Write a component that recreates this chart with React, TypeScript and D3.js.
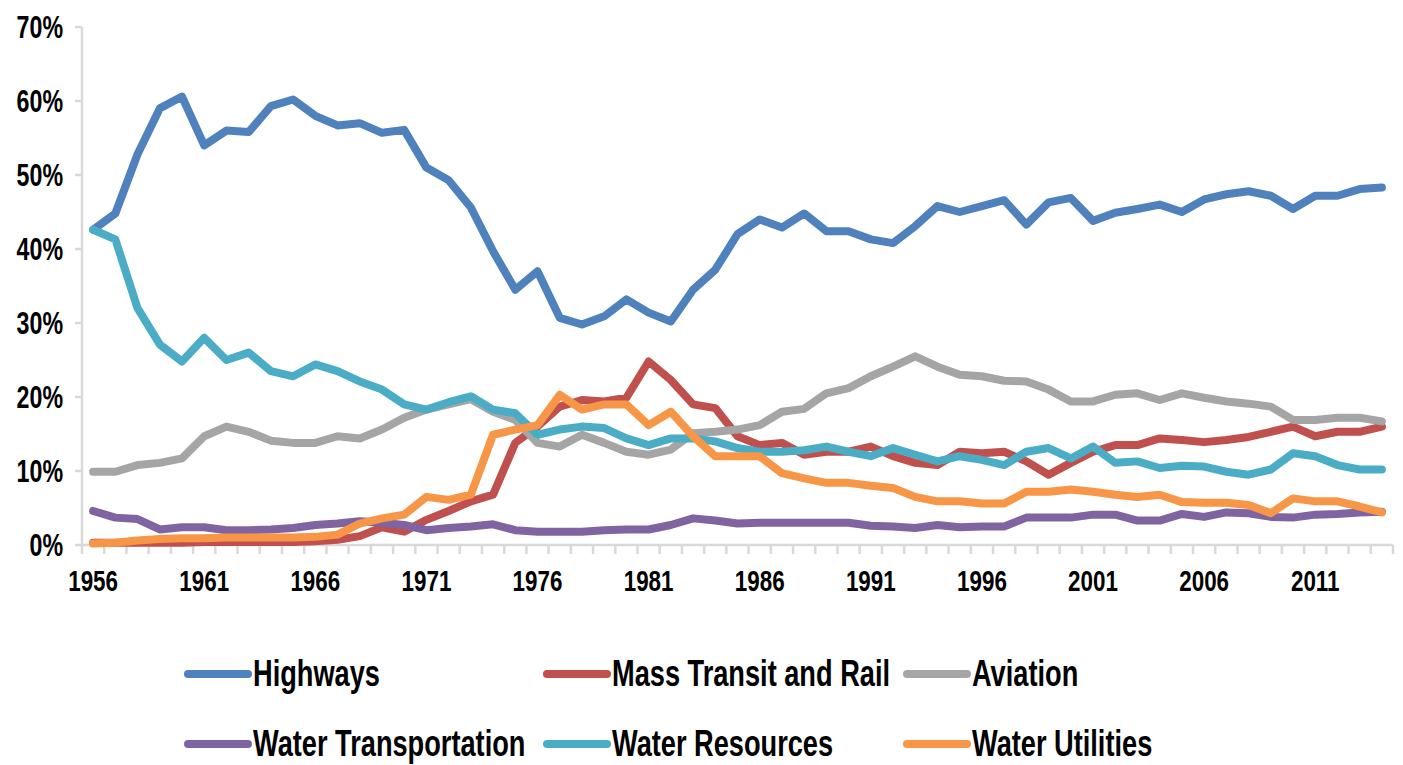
import React from 'react';
import * as d3 from 'd3';

// categories
const years = [
  1956, 1957, 1958, 1959, 1960, 1961, 1962, 1963, 1964, 1965,
  1966, 1967, 1968, 1969, 1970, 1971, 1972, 1973, 1974, 1975,
  1976, 1977, 1978, 1979, 1980, 1981, 1982, 1983, 1984, 1985,
  1986, 1987, 1988, 1989, 1990, 1991, 1992, 1993, 1994, 1995,
  1996, 1997, 1998, 1999, 2000, 2001, 2002, 2003, 2004, 2005,
  2006, 2007, 2008, 2009, 2010, 2011, 2012, 2013, 2014,
];

// share of spending, percent
const highways = [
  42.6, 44.8, 52.8, 59.0, 60.6, 54.0, 56.0, 55.8, 59.3, 60.2,
  58.0, 56.7, 57.0, 55.7, 56.1, 51.0, 49.3, 45.6, 39.7, 34.5,
  37.0, 30.7, 29.8, 30.9, 33.2, 31.4, 30.2, 34.5, 37.2, 42.0,
  44.0, 42.9, 44.8, 42.4, 42.4, 41.3, 40.8, 43.1, 45.8, 45.0,
  45.8, 46.6, 43.3, 46.3, 46.9, 43.8, 44.9, 45.4, 46.0, 45.0,
  46.7, 47.4, 47.8, 47.2, 45.4, 47.2, 47.2, 48.1, 48.3,
];
const massTransit = [
  0.3, 0.3, 0.3, 0.3, 0.3, 0.4, 0.4, 0.4, 0.4, 0.4,
  0.5, 0.7, 1.2, 2.4, 1.8, 3.4, 4.6, 5.9, 6.8, 13.8,
  16.0, 18.7, 19.6, 19.4, 19.9, 24.8, 22.3, 19.0, 18.5, 14.7,
  13.5, 13.8, 12.2, 12.6, 12.6, 13.3, 12.0, 11.1, 10.8, 12.6,
  12.4, 12.6, 11.3, 9.5, 11.1, 12.6, 13.5, 13.5, 14.4, 14.2,
  13.9, 14.2, 14.6, 15.3, 16.0, 14.7, 15.3, 15.3, 16.0,
];
const aviation = [
  9.9, 9.9, 10.8, 11.1, 11.7, 14.7, 16.0, 15.3, 14.1, 13.8,
  13.8, 14.7, 14.4, 15.6, 17.2, 18.3, 19.0, 19.7, 18.0, 16.9,
  13.8, 13.3, 14.9, 13.8, 12.6, 12.2, 12.9, 15.1, 15.3, 15.6,
  16.2, 18.0, 18.4, 20.5, 21.2, 22.8, 24.1, 25.5, 24.1, 23.0,
  22.8, 22.2, 22.1, 21.0, 19.4, 19.4, 20.3, 20.5, 19.6, 20.5,
  19.9, 19.4, 19.1, 18.7, 16.9, 16.9, 17.2, 17.2, 16.7,
];
const waterTransportation = [
  4.6, 3.7, 3.5, 2.1, 2.4, 2.4, 2.0, 2.0, 2.1, 2.3,
  2.7, 2.9, 3.2, 3.0, 2.7, 2.0, 2.3, 2.5, 2.8, 2.0,
  1.8, 1.8, 1.8, 2.0, 2.1, 2.1, 2.7, 3.6, 3.3, 2.9,
  3.0, 3.0, 3.0, 3.0, 3.0, 2.6, 2.5, 2.3, 2.7, 2.4,
  2.5, 2.5, 3.7, 3.7, 3.7, 4.1, 4.1, 3.3, 3.3, 4.2,
  3.8, 4.4, 4.3, 3.8, 3.7, 4.1, 4.2, 4.4, 4.5,
];
const waterResources = [
  42.6, 41.3, 32.0, 27.1, 24.8, 28.0, 25.0, 26.0, 23.5, 22.8,
  24.4, 23.5, 22.1, 21.0, 19.0, 18.3, 19.3, 20.1, 18.3, 17.8,
  14.9, 15.6, 16.0, 15.8, 14.4, 13.5, 14.4, 14.4, 14.0, 13.1,
  12.6, 12.6, 12.8, 13.3, 12.6, 12.0, 13.1, 12.2, 11.3, 12.0,
  11.5, 10.8, 12.6, 13.1, 11.7, 13.3, 11.1, 11.3, 10.4, 10.7,
  10.6, 9.9, 9.5, 10.2, 12.4, 12.0, 10.8, 10.2, 10.2,
];
const waterUtilities = [
  0.2, 0.3, 0.6, 0.8, 0.9, 0.9, 1.0, 1.0, 1.0, 1.0,
  1.1, 1.4, 2.9, 3.6, 4.1, 6.5, 6.1, 6.8, 14.9, 15.6,
  16.2, 20.3, 18.3, 19.0, 19.0, 16.2, 18.0, 14.7, 12.0, 12.0,
  12.0, 9.7, 9.0, 8.4, 8.4, 8.0, 7.7, 6.5, 5.9, 5.9,
  5.6, 5.6, 7.2, 7.2, 7.5, 7.2, 6.8, 6.5, 6.8, 5.8,
  5.7, 5.7, 5.4, 4.3, 6.3, 5.9, 5.9, 5.2, 4.4,
];

const yTicks = [0, 10, 20, 30, 40, 50, 60, 70];

const seriesNames = [
  'Highways', 'Mass Transit and Rail', 'Aviation',
  'Water Transportation', 'Water Resources', 'Water Utilities',
];
const seriesValues = [highways, massTransit, aviation, waterTransportation, waterResources, waterUtilities];
const seriesColors = ['#4F81BD', '#C0504D', '#A5A5A5', '#8064A2', '#4BACC6', '#F79646'];

const W = 1403;
const H = 765;
const plot = { left: 82, right: 1393, top: 27, bottom: 545 };
const FONT = '"Liberation Sans", Arial, sans-serif';

// narrow text: Arial squeezed horizontally (and a bit taller) like the Arial Narrow of the source
const Narrow = ({ x, y, anchor = 'start', size, weight = 'bold', children }: any) => (
  <g transform={`translate(${x},${y}) scale(0.8,1.08)`}>
    <text textAnchor={anchor} fontFamily={FONT} fontSize={size} fontWeight={weight} fill="#000">
      {children}
    </text>
  </g>
);

const App = () => {
  const x = d3.scaleBand<number>().domain(years).range([plot.left, plot.right]);
  const y = d3.scaleLinear().domain([0, 70]).range([plot.bottom, plot.top]);
  const bw = x.bandwidth();
  const cx = (yr: number) => (x(yr) as number) + bw / 2;

  const line = d3.line<number>()
    .x((_, i) => cx(years[i]))
    .y((d) => y(d));

  const boundaries = years.map((yr) => x(yr) as number).concat([plot.right]);
  const labelYears = years.filter((_, i) => i % 5 === 0);

  // legend layout: two rows of three
  const legendCols = [188, 547, 907];
  const legendRows = [674, 744];

  return (
    <svg width={W} height={H} style={{ position: 'absolute', left: 0, top: 0, background: '#fff' }}>
      {/* y axis */}
      <line x1={plot.left} x2={plot.left} y1={plot.top} y2={plot.bottom} stroke="#D9D9D9" strokeWidth={2.5} />
      {yTicks.map((t) => (
        <g key={t}>
          <line x1={plot.left - 7} x2={plot.left} y1={y(t)} y2={y(t)} stroke="#D9D9D9" strokeWidth={2.5} />
          <Narrow x={63} y={y(t) + 11} anchor="end" size={29}>{t}%</Narrow>
        </g>
      ))}

      {/* x axis */}
      <line x1={plot.left} x2={plot.right} y1={plot.bottom} y2={plot.bottom} stroke="#D9D9D9" strokeWidth={2.5} />
      {boundaries.map((b, i) => (
        <line key={i} x1={b} x2={b} y1={plot.bottom} y2={plot.bottom + 9} stroke="#D9D9D9" strokeWidth={2.5} />
      ))}
      {labelYears.map((yr) => (
        <Narrow key={yr} x={cx(yr)} y={plot.bottom + 46} anchor="middle" size={28}>{yr}</Narrow>
      ))}

      {/* series */}
      {seriesValues.map((vals, i) => (
        <path
          key={seriesNames[i]}
          d={line(vals) || ''}
          fill="none"
          stroke={seriesColors[i]}
          strokeWidth={8}
          strokeLinejoin="round"
          strokeLinecap="round"
        />
      ))}

      {/* legend */}
      {seriesNames.map((name, i) => {
        const lx = legendCols[i % 3];
        const ly = legendRows[Math.floor(i / 3)];
        return (
          <g key={name}>
            <line x1={lx} x2={lx + 60} y1={ly} y2={ly} stroke={seriesColors[i]} strokeWidth={8} strokeLinecap="round" />
            <Narrow x={lx + 65} y={ly + 12} size={34}>{name}</Narrow>
          </g>
        );
      })}
    </svg>
  );
};

export default App;
